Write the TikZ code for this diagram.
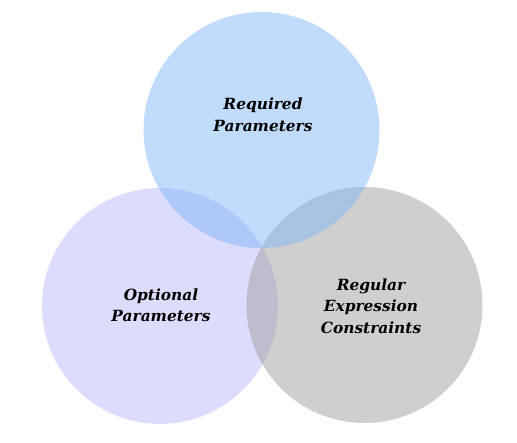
\documentclass[tikz,border=0pt]{standalone}
\usepackage{fontspec}
\newfontfamily\labelfont{DejaVu Serif}
\begin{document}
\begin{tikzpicture}[x=1pt,y=-1pt,
  venn/.style={fill opacity=0.5},
  lbl/.style={align=center,inner sep=0pt,text=black,
    font=\labelfont\bfseries\itshape\fontsize{15.4}{21.5}\selectfont}]
\definecolor{cblue}{RGB}{129,183,247}
\definecolor{clav}{RGB}{185,185,249}
\definecolor{cgray}{RGB}{159,159,159}
\useasboundingbox (0,0) rectangle (517,443);
\fill[venn,clav] (160,306) circle[radius=118];
\fill[venn,cgray] (364.5,305) circle[radius=118];
\fill[venn,cblue] (261.5,130) circle[radius=118];
\node[lbl] (req) at (263,115) {Required\\Parameters};
\node[lbl] (opt) at (161,305.5) {Optional\\Parameters};
\node[lbl] (reg) at (371,306) {Regular\\Expression\\Constraints};
\end{tikzpicture}
\end{document}
